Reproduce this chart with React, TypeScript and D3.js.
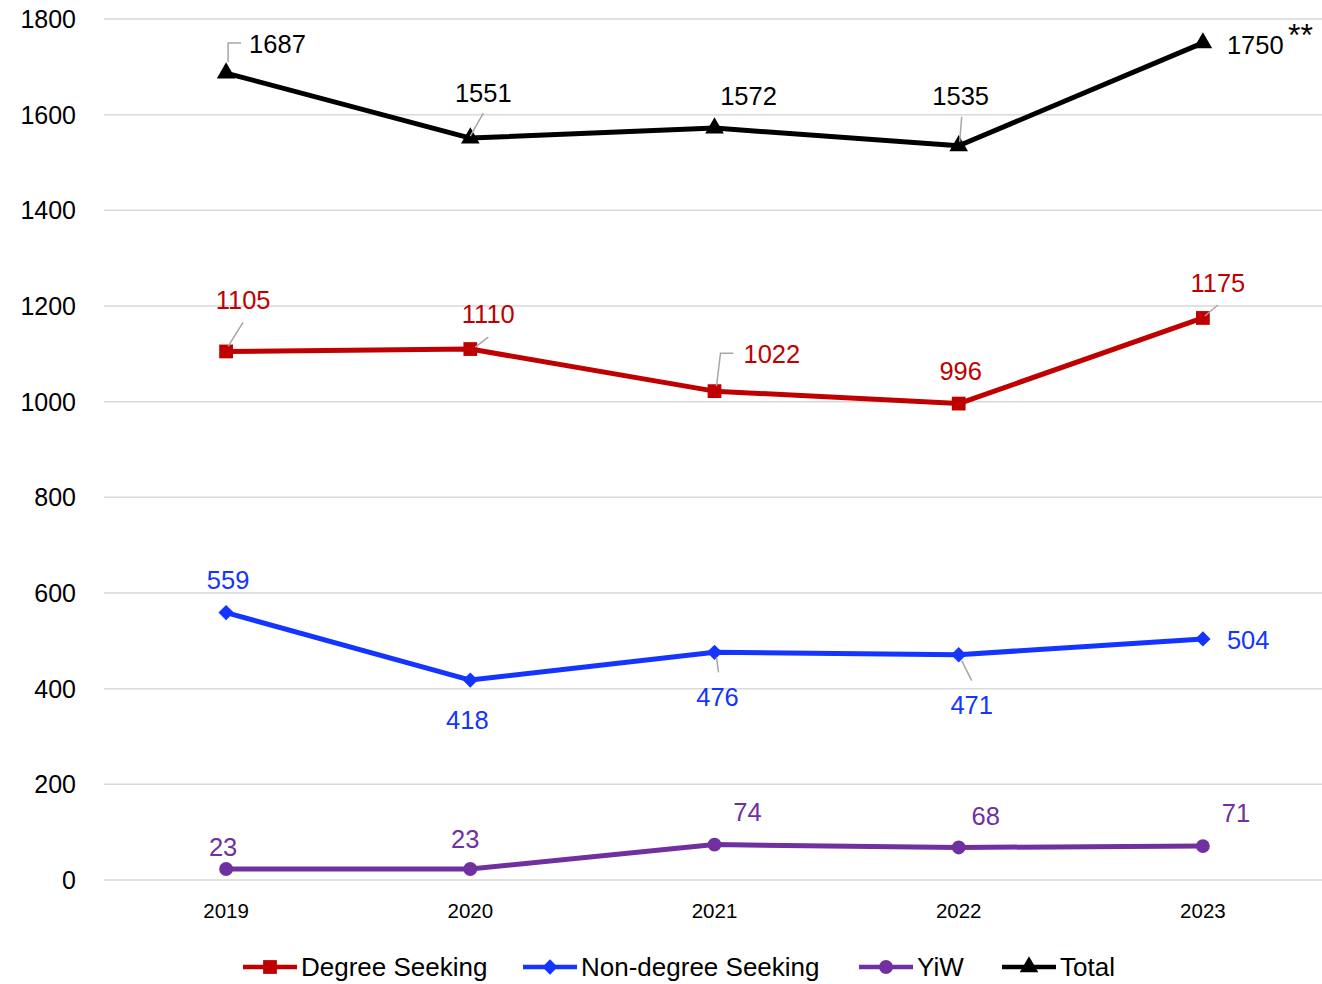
import React from "react";
import * as d3 from "d3";

const years = ["2019", "2020", "2021", "2022", "2023"];
const degreeSeeking = [1105, 1110, 1022, 996, 1175];
const nonDegreeSeeking = [559, 418, 476, 471, 504];
const yiw = [23, 23, 74, 68, 71];
const total = [1687, 1551, 1572, 1535, 1750];
const yTicks = [0, 200, 400, 600, 800, 1000, 1200, 1400, 1600, 1800];

const W = 1322;
const H = 984;
const FONT = "'Liberation Sans', Arial, sans-serif";

// label placement: dx, dy (baseline) relative to point, anchor, optional leader path
type Lbl = { dx: number; dy: number; anchor?: string; leader?: string };

const totalLabels: Lbl[] = [
  { dx: 23, dy: -20, anchor: "start", leader: "M2,-11 L2,-30 L15,-30" },
  { dx: 13, dy: -36, leader: "M0,-2 L13,-25" },
  { dx: 34, dy: -23 },
  { dx: 2, dy: -41, leader: "M1,-4 L3,-29" },
  { dx: 24, dy: 11, anchor: "start" },
];
const degreeLabels: Lbl[] = [
  { dx: 17, dy: -42, leader: "M2,-5 L17,-29" },
  { dx: 18, dy: -26, leader: "M5,-2 L18,-12" },
  { dx: 29, dy: -28, anchor: "start", leader: "M2,-5 L6,-38 L19,-38" },
  { dx: 2, dy: -24 },
  { dx: 15, dy: -26, leader: "M2,-2 L15,-13" },
];
const nonDegreeLabels: Lbl[] = [
  { dx: 2, dy: -24 },
  { dx: -3, dy: 49 },
  { dx: 3, dy: 54, leader: "M2,5 L4,20" },
  { dx: 13, dy: 59, leader: "M3,6 L13,26" },
  { dx: 24, dy: 10, anchor: "start" },
];
const yiwLabels: Lbl[] = [
  { dx: -3, dy: -13 },
  { dx: -5, dy: -21 },
  { dx: 33, dy: -24 },
  { dx: 27, dy: -22 },
  { dx: 33, dy: -24 },
];

const x = d3.scalePoint<string>().domain(years).range([104, 1325]).padding(0.5);
const y = d3.scaleLinear().domain([0, 1800]).range([880, 19]);

const series = [
  { name: "Degree Seeking", values: degreeSeeking, color: "#C00000", marker: "square", labels: degreeLabels },
  { name: "Non-degree Seeking", values: nonDegreeSeeking, color: "#1434FF", marker: "diamond", labels: nonDegreeLabels },
  { name: "YiW", values: yiw, color: "#7030A0", marker: "circle", labels: yiwLabels },
  { name: "Total", values: total, color: "#000000", marker: "triangle", labels: totalLabels },
];

const symbolFor = (m: string) => {
  if (m === "square") return d3.symbol(d3.symbolSquare, 190)();
  if (m === "diamond") return d3.symbol(d3.symbolDiamond2, 150)();
  if (m === "circle") return d3.symbol(d3.symbolCircle, 150)();
  return d3.symbol(d3.symbolTriangle, 150)();
};

const line = d3
  .line<number>()
  .x((_, i) => x(years[i]) as number)
  .y((d) => y(d));

const legendX = [243, 523, 859, 1002];

const App = () => {
  return (
    <svg width={W} height={H} style={{ position: "absolute", left: 0, top: 0, background: "#fff" }} fontFamily={FONT}>
      {/* grid */}
      {yTicks.map((t) => (
        <g key={t}>
          <line x1={104} x2={1322} y1={y(t)} y2={y(t)} stroke="#d9d9d9" strokeWidth={1.5} />
          <text x={76} y={y(t) + 9} textAnchor="end" fontSize={25} fill="#000">
            {t}
          </text>
        </g>
      ))}
      {years.map((yr) => (
        <text key={yr} x={x(yr)} y={918} textAnchor="middle" fontSize={20.5} fill="#000">
          {yr}
        </text>
      ))}

      {series.map((s) => (
        <g key={s.name}>
          <path d={line(s.values) as string} fill="none" stroke={s.color} strokeWidth={5} strokeLinejoin="round" />
          {s.values.map((v, i) => (
            <path key={i} d={symbolFor(s.marker) as string} transform={`translate(${x(years[i])},${y(v)})`} fill={s.color} />
          ))}
          {s.values.map((v, i) => {
            const l = s.labels[i];
            const px = x(years[i]) as number;
            const py = y(v);
            return (
              <g key={"l" + i}>
                {l.leader && (
                  <path d={l.leader} transform={`translate(${px},${py})`} fill="none" stroke="#a6a6a6" strokeWidth={1.5} />
                )}
                <text x={px + l.dx} y={py + l.dy} textAnchor={l.anchor || "middle"} fontSize={25.5} fill={s.color}>
                  {v}
                </text>
              </g>
            );
          })}
        </g>
      ))}
      <text x={1288} y={46} fontSize={32} fill="#000">
        **
      </text>

      {/* legend */}
      {series.map((s, i) => (
        <g key={"lg" + i} transform={`translate(${legendX[i]},967)`}>
          <line x1={0} x2={54} y1={0} y2={0} stroke={s.color} strokeWidth={4.5} />
          <path d={symbolFor(s.marker) as string} transform="translate(27,0)" fill={s.color} />
          <text x={58} y={9} fontSize={26} fill="#000" style={{ fontStretch: "condensed" }}>
            {s.name}
          </text>
        </g>
      ))}
    </svg>
  );
};

export default App;
